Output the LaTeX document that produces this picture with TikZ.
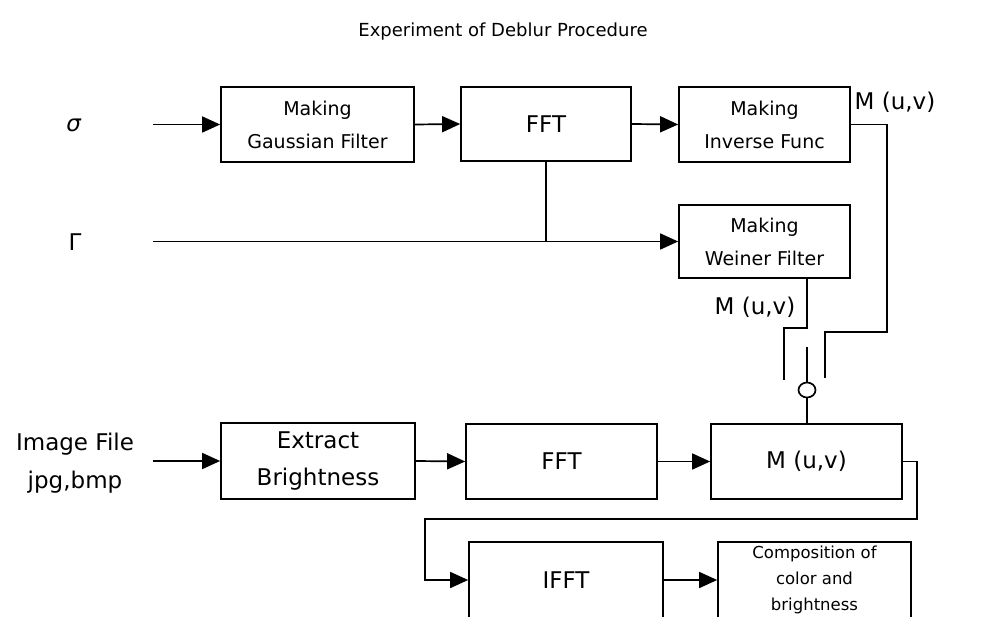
\documentclass[tikz,border=0pt]{standalone}
\usepackage{fontspec}
\setmainfont{DejaVu Sans}
\usetikzlibrary{arrows.meta,shapes.geometric}
\begin{document}
\begin{tikzpicture}[x=1pt,y=-1pt,
  line width=1.7pt,
  blk/.style={draw,line width=1.7pt,align=center,inner sep=0pt},
  sm/.style={font=\fontsize{19}{33}\selectfont},
  lg/.style={font=\fontsize{23}{37}\selectfont},
  xs/.style={font=\fontsize{16.5}{26}\selectfont},
  arr/.style={-{Triangle[length=18pt,width=16pt]}},
  lbl/.style={inner sep=0pt,font=\fontsize{23}{38}\selectfont}]
\useasboundingbox (0,0) rectangle (1006,617);
\node[inner sep=0pt,font=\fontsize{18}{22}\selectfont] (title) at (503,32) {Experiment of Deblur Procedure};
% top row
\node[blk,sm,minimum width=193pt,minimum height=75pt] (gauss) at (317.5,124.5) {Making\\Gaussian Filter};
\node[blk,lg,minimum width=170pt,minimum height=74pt] (fft1) at (546,124) {FFT};
\node[blk,sm,minimum width=171pt,minimum height=75pt] (inv) at (764.5,124.5) {Making\\Inverse Func};
\node[blk,sm,minimum width=171pt,minimum height=73pt] (wein) at (764.5,241.5) {Making\\Weiner Filter};
% bottom rows
\node[blk,lg,minimum width=194pt,minimum height=76pt] (extract) at (318,461) {Extract\\Brightness};
\node[blk,lg,minimum width=191pt,minimum height=75pt] (fft2) at (561.5,461.5) {FFT};
\node[blk,lg,minimum width=191pt,minimum height=75pt] (muv) at (806.5,461.5) {M (u,v)};
\node[blk,lg,minimum width=194pt,minimum height=76pt] (ifft) at (566,580) {IFFT};
\node[blk,xs,minimum width=193pt,minimum height=76pt] (comp) at (814.5,580) {Composition of\\color and\\brightness};
% input labels
\node[lbl] (sig) at (74,125) {\textit{σ}};
\node[lbl] (gam) at (75,242) {Γ};
\node[lbl,align=center] (img) at (75,463) {Image File\\jpg,bmp};
\node[lbl] (m1) at (895,102) {M (u,v)};
\node[lbl] (m2) at (755,307) {M (u,v)};
% input connectors
\coordinate (sin) at (153,124.5);
\coordinate (gin) at (153,241.5);
\coordinate (iin) at (153,461);
\draw[arr] (sin) -- (gauss.west);
\draw[arr] (gauss.east) -- (fft1.west);
\draw[arr] (fft1.east) -- (inv.west);
\draw[arr] (gin) -- (wein.west);
\coordinate (j) at (546,241.5);
\draw (fft1.south) -- (j);
\draw[arr] (iin) -- (extract.west);
\draw[arr] (extract.east) -- (fft2.west);
\draw[arr] (fft2.east) -- (muv.west);
% switch
\node[draw,ellipse,line width=1.7pt,minimum width=17pt,minimum height=15pt,inner sep=0pt] (sw) at (807,390) {};
\coordinate (swtop) at (807,347);
\coordinate (a1) at (887,124.5);
\coordinate (a2) at (887,332);
\coordinate (a3) at (825,332);
\coordinate (a4) at (825,378);
\draw (inv.east) -- (a1) -- (a2) -- (a3) -- (a4);
\coordinate (b0) at (807,278);
\coordinate (b1) at (807,328);
\coordinate (b2) at (784,328);
\coordinate (b3) at (784,380);
\draw (b0) -- (b1) -- (b2) -- (b3);
\draw (swtop) -- (sw.north);
\draw (sw.south) -- (sw.south |- muv.north);
% feedback
\coordinate (c1) at (917,461.5);
\coordinate (c2) at (917,519);
\coordinate (c3) at (425,519);
\coordinate (c4) at (425,580);
\draw[arr] (muv.east) -- (c1) -- (c2) -- (c3) -- (c4) -- (ifft.west);
\draw[arr] (ifft.east) -- (comp.west);
\end{tikzpicture}
\end{document}
